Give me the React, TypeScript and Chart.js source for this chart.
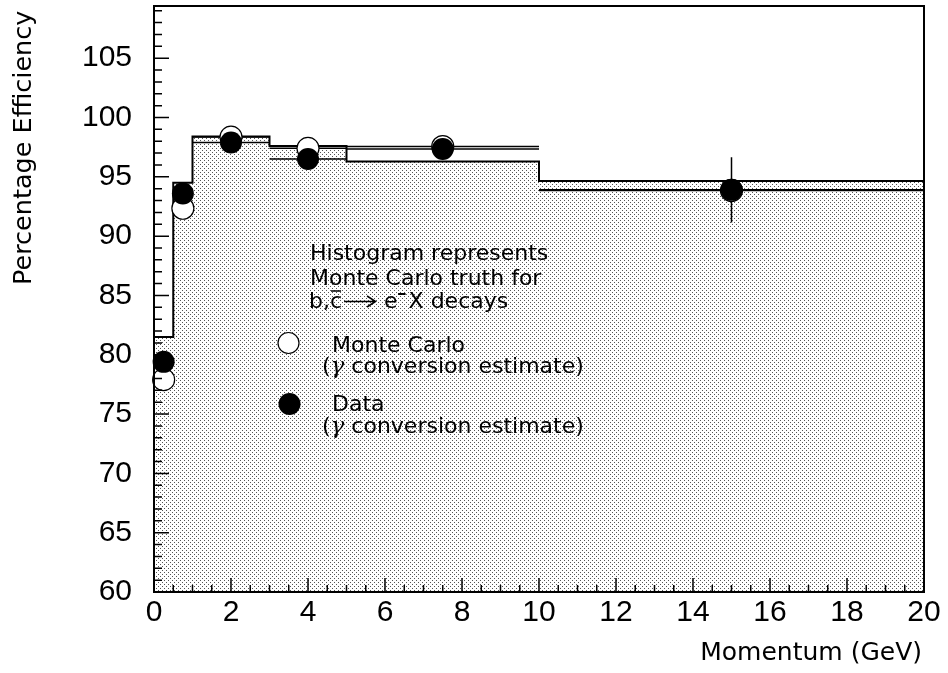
import React, { useEffect, useRef } from "react";
import { Chart, registerables } from "chart.js";

Chart.register(...registerables);

// ---- data ----
const binEdges = [0, 0.5, 1, 3, 5, 10, 20];
const mcTruth = [81.5, 94.5, 98.4, 97.6, 96.3, 94.65];
const pointX = [0.25, 0.75, 2, 4, 7.5, 15];
const mcEff = [77.9, 92.35, 98.35, 97.4, 97.55, 93.85];
const mcErr = [0.4, 0.4, 0.3, 0.3, 0.3, 0.5];
const dataEff = [79.4, 93.6, 97.9, 96.5, 97.35, 93.9];
const dataErrUp = [0.6, 0.5, 0.4, 0.5, 0.5, 2.75];
const dataErrDown = [0.6, 0.5, 0.4, 0.5, 0.5, 2.75];
const xTickValues = [0, 2, 4, 6, 8, 10, 12, 14, 16, 18, 20];
const yTickValues = [60, 65, 70, 75, 80, 85, 90, 95, 100, 105];
const xMinorStep = 0.5;
const yMinorStep = 1;
const xMin = 0;
const xMax = 20;
const yMin = 60;
const yMax = 109.4;

const SANS = "'DejaVu Sans', sans-serif";
const MC_INDEX = 1;

function makePattern(ctx: CanvasRenderingContext2D) {
  const c = document.createElement("canvas");
  c.width = 4;
  c.height = 4;
  const g = c.getContext("2d")!;
  g.fillStyle = "#ffffff";
  g.fillRect(0, 0, 4, 4);
  g.fillStyle = "#555555";
  g.fillRect(0, 0, 1, 1);
  g.fillRect(2, 2, 1, 1);
  return ctx.createPattern(c, "repeat")!;
}

const errorBarPlugin = {
  id: "errorBars",
  beforeDatasetDraw(chart: any, args: any) {
    if (args.index !== MC_INDEX) return;
    const { ctx, chartArea, scales } = chart;
    const x = scales.x;
    const y = scales.y;
    ctx.save();
    ctx.beginPath();
    ctx.rect(chartArea.left, chartArea.top, chartArea.right - chartArea.left, chartArea.bottom - chartArea.top);
    ctx.clip();
    ctx.strokeStyle = "#000";
    ctx.lineWidth = 1.5;
    const draw = (i: number, v: number, up: number, down: number) => {
      const x0 = x.getPixelForValue(binEdges[i]);
      const x1 = x.getPixelForValue(binEdges[i + 1]);
      const xc = x.getPixelForValue(pointX[i]);
      const yc = y.getPixelForValue(v);
      ctx.beginPath();
      ctx.moveTo(x0, yc);
      ctx.lineTo(x1, yc);
      ctx.moveTo(xc, y.getPixelForValue(v + up));
      ctx.lineTo(xc, y.getPixelForValue(v - down));
      ctx.stroke();
    };
    for (let i = 0; i < pointX.length; i++) {
      draw(i, mcEff[i], mcErr[i], mcErr[i]);
      draw(i, dataEff[i], dataErrUp[i], dataErrDown[i]);
    }
    ctx.restore();
  },
};

const overlayPlugin = {
  id: "overlay",
  afterDraw(chart: any) {
    const { ctx, chartArea, scales } = chart;
    const x = scales.x;
    const y = scales.y;
    const { left, right, top, bottom } = chartArea;
    ctx.save();
    ctx.strokeStyle = "#000";
    ctx.fillStyle = "#000";

    // inward ticks
    ctx.lineWidth = 1.5;
    ctx.beginPath();
    const nx = Math.round((xMax - xMin) / xMinorStep);
    for (let k = 0; k <= nx; k++) {
      const v = xMin + k * xMinorStep;
      const major = xTickValues.includes(v);
      const px = x.getPixelForValue(v);
      ctx.moveTo(px, bottom);
      ctx.lineTo(px, bottom - (major ? 14 : 7));
    }
    const ny = Math.floor((yMax - yMin) / yMinorStep);
    for (let k = 0; k <= ny; k++) {
      const v = yMin + k * yMinorStep;
      const major = yTickValues.includes(v);
      const py = y.getPixelForValue(v);
      ctx.moveTo(left, py);
      ctx.lineTo(left + (major ? 15 : 8), py);
    }
    ctx.stroke();

    // frame
    ctx.lineWidth = 2;
    ctx.strokeRect(left, top, right - left, bottom - top);

    // axis titles
    ctx.font = `25px ${SANS}`;
    ctx.textBaseline = "alphabetic";
    ctx.textAlign = "right";
    ctx.fillText("Momentum (GeV)", 922, 660);
    ctx.save();
    ctx.translate(30.5, 285);
    ctx.rotate(-Math.PI / 2);
    ctx.textAlign = "left";
    ctx.font = `25.5px ${SANS}`;
    ctx.fillText("Percentage Efficiency", 0, 0);
    ctx.restore();

    // annotation text
    ctx.textAlign = "left";
    ctx.font = `22px ${SANS}`;
    ctx.fillText("Histogram represents", 310, 260);
    ctx.fillText("Monte Carlo truth for", 310, 285);
    const b3 = 308;
    ctx.fillText("b,", 309, b3);
    const cx = 309 + ctx.measureText("b,").width;
    ctx.fillText("c", cx, b3);
    const cw = ctx.measureText("c").width;
    ctx.lineWidth = 1.5;
    ctx.beginPath();
    ctx.moveTo(cx + 1, b3 - 17);
    ctx.lineTo(cx + cw - 1, b3 - 17);
    // arrow
    const ax0 = cx + cw + 2;
    const ax1 = ax0 + 31;
    const ay = b3 - 6.5;
    ctx.moveTo(ax0, ay);
    ctx.lineTo(ax1, ay);
    ctx.moveTo(ax1 - 8, ay - 5.5);
    ctx.lineTo(ax1 + 0.5, ay);
    ctx.lineTo(ax1 - 8, ay + 5.5);
    ctx.stroke();
    const ex = ax1 + 9;
    ctx.fillText("e", ex, b3);
    const ew = ctx.measureText("e").width;
    ctx.lineWidth = 2;
    ctx.beginPath();
    ctx.moveTo(ex + ew + 0.5, b3 - 14);
    ctx.lineTo(ex + ew + 8, b3 - 14);
    ctx.stroke();
    ctx.fillText("X decays", ex + ew + 11, b3);

    const gammaLine = (xs: number, ys: number) => {
      ctx.font = `22px ${SANS}`;
      ctx.fillText("(", xs, ys);
      let xx = xs + ctx.measureText("(").width;
      ctx.font = `italic 23px 'DejaVu Serif', serif`;
      ctx.fillText("\u03B3", xx, ys);
      xx += ctx.measureText("\u03B3").width;
      ctx.font = `22px ${SANS}`;
      ctx.fillText(" conversion estimate)", xx, ys);
    };
    ctx.fillText("Monte Carlo", 332, 352);
    gammaLine(322, 373);
    ctx.fillText("Data", 332, 411);
    gammaLine(322, 433);

    // legend markers
    ctx.lineWidth = 1.2;
    ctx.beginPath();
    ctx.arc(288.5, 343, 10.5, 0, Math.PI * 2);
    ctx.fillStyle = "#fff";
    ctx.fill();
    ctx.stroke();
    ctx.beginPath();
    ctx.arc(289.5, 404, 11, 0, Math.PI * 2);
    ctx.fillStyle = "#000";
    ctx.fill();

    ctx.restore();
  },
};

export default function App() {
  const ref = useRef<HTMLCanvasElement | null>(null);

  useEffect(() => {
    const canvas = ref.current;
    if (!canvas) return;
    const ctx = canvas.getContext("2d")!;
    const pattern = makePattern(ctx);

    const histData = binEdges.map((e, i) => ({
      x: e,
      y: mcTruth[Math.min(i, mcTruth.length - 1)],
    }));
    const mcData = pointX.map((px, i) => ({ x: px, y: mcEff[i] }));
    const dData = pointX.map((px, i) => ({ x: px, y: dataEff[i] }));

    const chart = new Chart(ctx, {
      type: "scatter",
      data: {
        datasets: [
          {
            type: "line",
            label: "MC truth",
            data: histData,
            stepped: "before",
            fill: "start",
            backgroundColor: pattern as any,
            borderColor: "#000",
            borderWidth: 2,
            pointRadius: 0,
            tension: 0,
            order: 3,
          } as any,
          {
            label: "Monte Carlo",
            data: mcData,
            pointRadius: 11,
            pointHoverRadius: 11,
            pointBackgroundColor: "#fff",
            pointBorderColor: "#000",
            pointBorderWidth: 1.2,
            showLine: false,
            clip: false,
            order: 2,
          } as any,
          {
            label: "Data",
            data: dData,
            pointRadius: 11,
            pointHoverRadius: 11,
            pointBackgroundColor: "#000",
            pointBorderColor: "#000",
            pointBorderWidth: 0,
            showLine: false,
            clip: false,
            order: 1,
          } as any,
        ],
      },
      options: {
        responsive: false,
        animation: false,
        events: [],
        layout: { autoPadding: false, padding: { top: 6, right: 24, left: 0, bottom: 0 } },
        plugins: {
          legend: { display: false },
          tooltip: { enabled: false },
        },
        scales: {
          x: {
            type: "linear",
            min: xMin,
            max: xMax,
            afterBuildTicks: (s: any) => {
              s.ticks = xTickValues.map((v) => ({ value: v }));
            },
            afterFit: (s: any) => {
              s.height = 81;
              s.paddingLeft = 0;
              s.paddingRight = 0;
              s.paddingTop = 0;
              s.paddingBottom = 0;
            },
            grid: { display: false, drawTicks: false },
            border: { display: false },
            ticks: {
              font: { family: "'Liberation Sans', Arial, sans-serif", size: 30 },
              color: "#000",
              padding: 3,
              maxRotation: 0,
              autoSkip: false,
            },
          },
          y: {
            type: "linear",
            min: yMin,
            max: yMax,
            afterBuildTicks: (s: any) => {
              s.ticks = yTickValues.map((v) => ({ value: v }));
            },
            afterFit: (s: any) => {
              s.width = 154;
              s.paddingLeft = 0;
              s.paddingRight = 0;
              s.paddingTop = 0;
              s.paddingBottom = 0;
            },
            grid: { display: false, drawTicks: false },
            border: { display: false },
            ticks: {
              font: { family: "'Liberation Sans', Arial, sans-serif", size: 30 },
              color: "#000",
              padding: 22,
              autoSkip: false,
            },
          },
        },
      } as any,
      plugins: [errorBarPlugin, overlayPlugin],
    });

    return () => chart.destroy();
  }, []);

  return (
    <div style={{ position: "absolute", left: 0, top: 0, width: 948, height: 673, background: "#fff" }}>
      <canvas ref={ref} width={948} height={673} style={{ display: "block", width: 948, height: 673 }} />
    </div>
  );
}
